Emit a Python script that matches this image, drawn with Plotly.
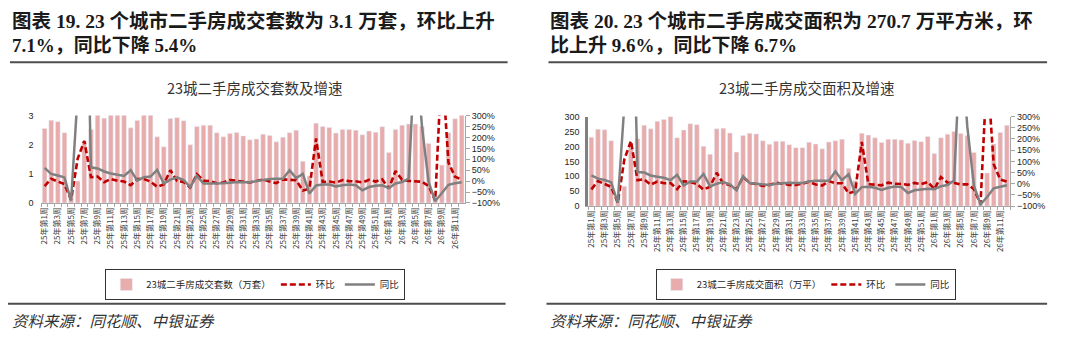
import plotly.graph_objects as go

weeks = [f"25年第{i}周" for i in range(1, 53)] + [f"26年第{i}周" for i in range(1, 13)]

# Left chart: 23城二手房成交套数（万套）
units = [2.56, 2.84, 2.79, 2.41, 0.37, 0.75, 2.13, 2.52, 3.05, 2.91,
         3.21, 3.28, 3.20, 2.58, 2.83, 3.10, 3.05, 2.27, 1.93, 2.90,
         2.93, 2.82, 2.00, 2.63, 2.67, 2.67, 2.41, 2.27, 2.39, 2.42,
         2.30, 2.17, 2.20, 2.36, 2.32, 2.10, 2.26, 2.41, 2.50, 1.43,
         0.93, 2.74, 2.63, 2.59, 2.40, 2.52, 2.52, 2.50, 2.34, 2.47,
         2.43, 2.62, 1.73, 2.52, 2.67, 2.71, 2.71, 2.63, 2.04, 0.20,
         1.30, 2.41, 2.89, 3.10]
units_mom = [-23, 11, -2, -14, -85, 103, 184, 18, 21, -5,
             10, 2, -2, -19, 10, 10, -2, -26, -15, 50,
             1, -4, -29, 32, 2, 0, -10, -6, 5, 1,
             -5, -6, 1, 7, -2, -9, 8, 7, 4, -43,
             -35, 195, -4, -2, -7, 5, 0, -1, -6, 6,
             -2, 8, -34, 46, 6, 1, 0, -3, -22, -90,
             550, 85, 20, 7.1]
units_yoy = [61, 33, 26, 17, -90, 400, 1500, 63, 58, 44,
             35, 29, 24, 50, 2, 18, 21, 51, -11, 7,
             17, 5, -27, 24, -11, -11, -11, -10, -7, -4,
             -5, -5, 0, 5, 10, 11, 11, 50, 14, 33,
             -57, -20, -16, -16, -24, -19, -16, -19, -42, -27,
             -21, -19, -32, -11, -4, 12, 632, 250, -4, -92,
             -57, -17, -10, -5.4]

# Right chart: 23城二手房成交面积（万平）
area = [231, 258, 256, 219, 32, 67, 195, 226, 271, 259,
        284, 290, 300, 229, 255, 276, 273, 201, 174, 259,
        261, 245, 181, 237, 244, 242, 219, 207, 217, 217,
        206, 196, 196, 214, 208, 192, 215, 219, 224, 127,
        85, 244, 238, 229, 213, 224, 224, 222, 211, 220,
        216, 233, 176, 229, 241, 250, 243, 237, 180, 18,
        111, 208, 247, 270.7]
area_mom = [-25, 12, -1, -14, -85, 109, 191, 16, 20, -4,
            10, 2, 3, -24, 11, 8, -1, -26, -13, 49,
            1, -6, -26, 31, 3, -1, -10, -5, 5, 0,
            -5, -5, 0, 9, -3, -8, 12, 2, 2, -43,
            -33, 187, -2, -4, -7, 5, 0, -1, -5, 4,
            -2, 8, -24, 30, 5, 4, -3, -2, -24, -90,
            517, 87, 19, 9.6]
area_yoy = [37, 23, 17, 7, -84, 350, 1200, 52, 50, 37,
            31, 27, 16, 40, -8, 10, 10, 44, -12, 0,
            8, -3, -29, 34, 3, 0, -2, -5, 0, 3,
            4, 3, 3, 10, 14, 14, 14, 55, 16, 43,
            -45, -15, -13, -18, -28, -18, -12, -15, -41, -29,
            -26, -22, -24, -11, -6, 14, 659, 254, -8, -92,
            -59, -20, -13, -6.7]

W, H = 1080, 337
BAR = "rgb(232,172,172)"
RED = "#C00000"
GREY = "#808080"
AXC = "#a6a6a6"
CJK = "Noto Sans CJK SC, Liberation Sans, sans-serif"
SERIF = "Liberation Serif, Noto Sans CJK SC, serif"
NUM = "Liberation Sans, Arial, sans-serif"

def px(x):
    return x / W

def py(y):
    return (H - y) / H

fig = go.Figure()
fig.add_trace(go.Bar(x=weeks, y=units, name="23城二手房成交套数（万套）", marker_color=BAR,
                     xaxis="x", yaxis="y", legend="legend"))
fig.add_trace(go.Scatter(x=weeks, y=units_mom, name="环比", mode="lines",
                         line=dict(color=RED, width=2.6, dash="6px,3px"), xaxis="x", yaxis="y2", legend="legend"))
fig.add_trace(go.Scatter(x=weeks, y=units_yoy, name="同比", mode="lines",
                         line=dict(color=GREY, width=2.5), xaxis="x", yaxis="y2", legend="legend"))

fig.add_trace(go.Bar(x=weeks, y=area, name="23城二手房成交面积（万平）", marker_color=BAR,
                     xaxis="x2", yaxis="y3", legend="legend2"))
fig.add_trace(go.Scatter(x=weeks, y=area_mom, name="环比", mode="lines",
                         line=dict(color=RED, width=2.6, dash="6px,3px"), xaxis="x2", yaxis="y4", legend="legend2"))
fig.add_trace(go.Scatter(x=weeks, y=area_yoy, name="同比", mode="lines",
                         line=dict(color=GREY, width=2.5), xaxis="x2", yaxis="y4", legend="legend2"))

ticktext = [w if i % 2 == 0 else "" for i, w in enumerate(weeks)]

def xax(domain, anchor):
    return dict(domain=domain, anchor=anchor, type="category", tickmode="array",
                tickvals=weeks, ticktext=ticktext, tickangle=-90, tickson="boundaries",
                ticks="outside", ticklen=3, tickcolor=AXC, showline=True, linecolor=AXC,
                linewidth=1, showgrid=False, zeroline=False,
                tickfont=dict(family=CJK, size=8, color="#404040"))

def sec(anchor, overlay):
    return dict(overlaying=overlay, side="right", anchor=anchor, range=[-100, 300], dtick=50,
                ticksuffix="%", showline=True, linecolor=AXC, ticks="outside", ticklen=4,
                tickcolor=AXC, showgrid=False, zeroline=False,
                tickfont=dict(family=NUM, size=9, color="#262626"))

fig.update_layout(
    width=W, height=H, margin=dict(l=0, r=0, t=0, b=0),
    paper_bgcolor="white", plot_bgcolor="white", bargap=0.3, showlegend=True,
    xaxis=xax([px(38.4), px(463.3)], "y"),
    yaxis=dict(domain=[py(204), py(114)], anchor="x", range=[0, 3], dtick=1, showgrid=False,
               zeroline=False, ticks="outside", ticklen=5, tickcolor="rgba(0,0,0,0)",
               tickfont=dict(family=NUM, size=9, color="#262626")),
    yaxis2=sec("x", "y"),
    xaxis2=xax([px(586.7), px(1010)], "y3"),
    yaxis3=dict(domain=[py(207.3), py(115)], anchor="x2", range=[0, 300], dtick=50, showgrid=False,
                zeroline=False, showline=True, linecolor=GREY, linewidth=2.5,
                ticks="outside", ticklen=4, tickcolor="rgba(0,0,0,0)",
                tickfont=dict(family=NUM, size=9, color="#262626")),
    yaxis4=sec("x2", "y3"),
    legend=dict(orientation="h", x=px(253), xanchor="center", y=py(288), yanchor="middle",
                bordercolor="#333", borderwidth=1, bgcolor="white",
                font=dict(family=CJK, size=9.5, color="#262626"), itemwidth=30,
                tracegroupgap=0),
    legend2=dict(orientation="h", x=px(805), xanchor="center", y=py(288), yanchor="middle",
                 bordercolor="#333", borderwidth=1, bgcolor="white",
                 font=dict(family=CJK, size=9.5, color="#262626"), itemwidth=30,
                 tracegroupgap=0),
)

annots = [
    (7, 17, "<b>图表 19. 23 个城市二手房成交套数为 3.1 万套，环比上升</b>", 19.5, SERIF, "left", "#1a1a1a"),
    (7, 42, "<b>7.1%，同比下降 5.4%</b>", 19, SERIF, "left", "#1a1a1a"),
    (547, 17, "<b>图表 20. 23 个城市二手房成交面积为 270.7 万平方米，环</b>", 19.5, SERIF, "left", "#1a1a1a"),
    (547, 42, "<b>比上升 9.6%，同比下降 6.7%</b>", 19, SERIF, "left", "#1a1a1a"),
    (253, 85, "23城二手房成交套数及增速", 14.5, CJK, "center", "#333333"),
    (806, 85, "23城二手房成交面积及增速", 14.5, CJK, "center", "#333333"),
    (7, 325, "<i>资料来源：同花顺、中银证券</i>", 15.5, CJK, "left", "#333333"),
    (547, 325, "<i>资料来源：同花顺、中银证券</i>", 15.5, CJK, "left", "#333333"),
]
for x, y, t, s, f, al, c in annots:
    fig.add_annotation(x=px(x), y=py(y), xref="paper", yref="paper", text=t, showarrow=False,
                       xanchor=al, yanchor="middle", font=dict(family=f, size=s, color=c))

for x0, x1, y in [(7, 506, 59), (547, 1047, 59), (5, 504, 308), (545, 1047, 308)]:
    fig.add_shape(type="line", xref="paper", yref="paper", x0=px(x0), x1=px(x1), y0=py(y), y1=py(y),
                  line=dict(color="#4d4d4d", width=2))

fig.write_html("out.html")
